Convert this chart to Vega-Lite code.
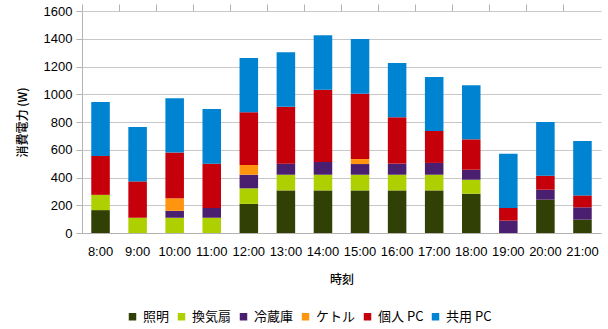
{
  "$schema": "https://vega.github.io/schema/vega-lite/v6.json",
  "width": 519,
  "height": 222,
  "autosize": {"type": "none"},
  "padding": {"left": 82, "top": 11, "right": 7, "bottom": 96},
  "config": {
    "font": "Liberation Sans",
    "view": {"stroke": null},
    "axis": {
      "labelFont": "Liberation Sans",
      "labelFontSize": 13,
      "labelColor": "#000000",
      "titleFont": "Noto Sans CJK JP",
      "titleFontSize": 12,
      "titleFontWeight": 500,
      "titleColor": "#000000",
      "domainColor": "#b3b3b3",
      "tickColor": "#b3b3b3",
      "gridColor": "#c8c8c8"
    }
  },
  "data": {
    "values": [
      {"時刻": "8:00", "照明": 165, "換気扇": 110, "冷蔵庫": 0, "ケトル": 0, "個人 PC": 280, "共用 PC": 390},
      {"時刻": "9:00", "照明": 0, "換気扇": 110, "冷蔵庫": 0, "ケトル": 0, "個人 PC": 262, "共用 PC": 392},
      {"時刻": "10:00", "照明": 0, "換気扇": 110, "冷蔵庫": 50, "ケトル": 90, "個人 PC": 330, "共用 PC": 392},
      {"時刻": "11:00", "照明": 0, "換気扇": 110, "冷蔵庫": 70, "ケトル": 0, "個人 PC": 320, "共用 PC": 394},
      {"時刻": "12:00", "照明": 210, "換気扇": 112, "冷蔵庫": 98, "ケトル": 70, "個人 PC": 380, "共用 PC": 391},
      {"時刻": "13:00", "照明": 307, "換気扇": 113, "冷蔵庫": 80, "ケトル": 0, "個人 PC": 410, "共用 PC": 392},
      {"時刻": "14:00", "照明": 307, "換気扇": 113, "冷蔵庫": 92, "ケトル": 0, "個人 PC": 521, "共用 PC": 392},
      {"時刻": "15:00", "照明": 307, "換気扇": 113, "冷蔵庫": 77, "ケトル": 36, "個人 PC": 471, "共用 PC": 394},
      {"時刻": "16:00", "照明": 307, "換気扇": 113, "冷蔵庫": 80, "ケトル": 0, "個人 PC": 334, "共用 PC": 391},
      {"時刻": "17:00", "照明": 307, "換気扇": 113, "冷蔵庫": 85, "ケトル": 0, "個人 PC": 230, "共用 PC": 389},
      {"時刻": "18:00", "照明": 283, "換気扇": 101, "冷蔵庫": 72, "ケトル": 0, "個人 PC": 219, "共用 PC": 389},
      {"時刻": "19:00", "照明": 0, "換気扇": 0, "冷蔵庫": 89, "ケトル": 0, "個人 PC": 91, "共用 PC": 392},
      {"時刻": "20:00", "照明": 240, "換気扇": 0, "冷蔵庫": 72, "ケトル": 0, "個人 PC": 101, "共用 PC": 387},
      {"時刻": "21:00", "照明": 96, "換気扇": 0, "冷蔵庫": 89, "ケトル": 0, "個人 PC": 86, "共用 PC": 392}
    ]
  },
  "transform": [
    {"fold": ["照明", "換気扇", "冷蔵庫", "ケトル", "個人 PC", "共用 PC"], "as": ["機器", "電力"]},
    {"window": [{"op": "row_number", "as": "段"}], "groupby": ["時刻"]}
  ],
  "layer": [
    {
      "mark": {"type": "bar"},
      "encoding": {
        "x": {
          "field": "時刻",
          "type": "ordinal",
          "sort": null,
          "scale": {"paddingInner": 0.5, "paddingOuter": 0.25},
          "axis": {
            "title": "時刻",
            "labelAngle": 0,
            "ticks": false,
            "tickSize": 0,
            "labelPadding": 12,
            "titlePadding": 16,
            "grid": false
          }
        },
        "y": {
          "field": "電力",
          "type": "quantitative",
          "stack": "zero",
          "scale": {"domain": [0, 1600], "nice": false},
          "axis": {
            "title": "消費電力 (W)",
            "values": [0, 200, 400, 600, 800, 1000, 1200, 1400, 1600],
            "format": "d",
            "tickSize": 6,
            "labelPadding": 4,
            "titlePadding": 14,
            "grid": true
          }
        },
        "color": {
          "field": "機器",
          "type": "nominal",
          "scale": {
            "domain": ["照明", "換気扇", "冷蔵庫", "ケトル", "個人 PC", "共用 PC"],
            "range": ["#314004", "#aecf00", "#4b1f6f", "#ff950e", "#c5000b", "#0084d1"]
          },
          "legend": {
            "title": null,
            "orient": "none",
            "legendX": 44,
            "legendY": 299,
            "direction": "horizontal",
            "columns": 6,
            "symbolType": "square",
            "symbolSize": 56,
            "symbolStrokeWidth": 0,
            "labelFont": "Noto Sans CJK JP",
            "labelFontSize": 13,
            "labelColor": "#000000",
            "labelOffset": 4,
            "columnPadding": 5
          }
        },
        "order": {"field": "段", "type": "quantitative", "sort": "ascending"}
      }
    },
    {
      "mark": {"type": "rule", "opacity": 0},
      "encoding": {
        "x": {
          "field": "時刻",
          "type": "ordinal",
          "sort": null,
          "axis": {
            "title": null,
            "labels": false,
            "domain": false,
            "grid": false,
            "tickSize": 7,
            "bandPosition": -0.5
          }
        }
      }
    }
  ],
  "resolve": {"axis": {"x": "independent"}}
}
